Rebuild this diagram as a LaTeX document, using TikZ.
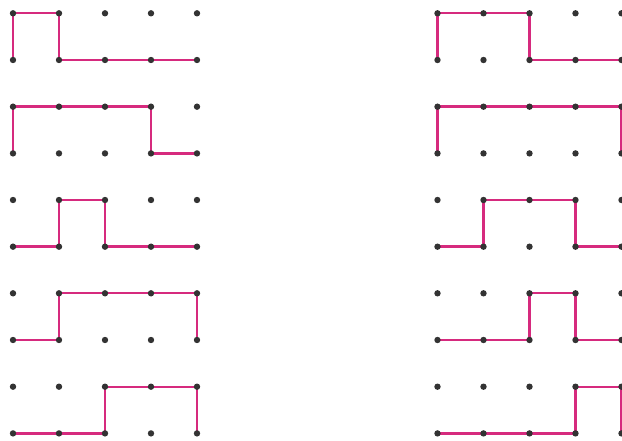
\documentclass[tikz,border=0pt]{standalone}
\usepackage{tikz}
\definecolor{route}{HTML}{D62A7E}
\definecolor{pin}{HTML}{333333}

\begin{document}
\begin{tikzpicture}[
      x=1pt, y=-1pt,
      path/.style={draw=route, line width=2.4pt, line join=miter},
      dot/.style={fill=pin}
  ]
    \useasboundingbox (0,0) rectangle (622,441);

    % --- dot grids: two columns of five panels, 2 x 5 pins each ---
    \foreach \pn/\px/\py in {L1/13/13.3, L2/13/106.7, L3/13/200, L4/13/293.3, L5/13/386.7,
                             R1/437.5/13.3, R2/437.5/106.7, R3/437.5/200, R4/437.5/293.3, R5/437.5/386.7} {
      \foreach \i in {0,...,4} {
        \coordinate (\pn-t\i) at (\px+46*\i, \py);
        \coordinate (\pn-b\i) at (\px+46*\i, \py+46.7);
      }
    }

    % --- left column ---
    \draw[path] (L1-b0) -- (L1-t0) -- (L1-t1) -- (L1-b1) -- (L1-b4);
    \draw[path] (L2-b0) -- (L2-t0) -- (L2-t3) -- (L2-b3) -- (L2-b4);
    \draw[path] (L3-b0) -- (L3-b1) -- (L3-t1) -- (L3-t2) -- (L3-b2) -- (L3-b4);
    \draw[path] (L4-b0) -- (L4-b1) -- (L4-t1) -- (L4-t4) -- (L4-b4);
    \draw[path] (L5-b0) -- (L5-b2) -- (L5-t2) -- (L5-t4) -- (L5-b4);

    % --- right column ---
    \draw[path] (R1-b0) -- (R1-t0) -- (R1-t2) -- (R1-b2) -- (R1-b4);
    \draw[path] (R2-b0) -- (R2-t0) -- (R2-t4) -- (R2-b4);
    \draw[path] (R3-b0) -- (R3-b1) -- (R3-t1) -- (R3-t3) -- (R3-b3) -- (R3-b4);
    \draw[path] (R4-b0) -- (R4-b2) -- (R4-t2) -- (R4-t3) -- (R4-b3) -- (R4-b4);
    \draw[path] (R5-b0) -- (R5-b3) -- (R5-t3) -- (R5-t4) -- (R5-b4);

    % pins on top
    \foreach \pn in {L1,L2,L3,L4,L5,R1,R2,R3,R4,R5} {
      \foreach \i in {0,...,4} {
        \fill[dot] (\pn-t\i) circle (3.2);
        \fill[dot] (\pn-b\i) circle (3.2);
      }
    }

\end{tikzpicture}
\end{document}
